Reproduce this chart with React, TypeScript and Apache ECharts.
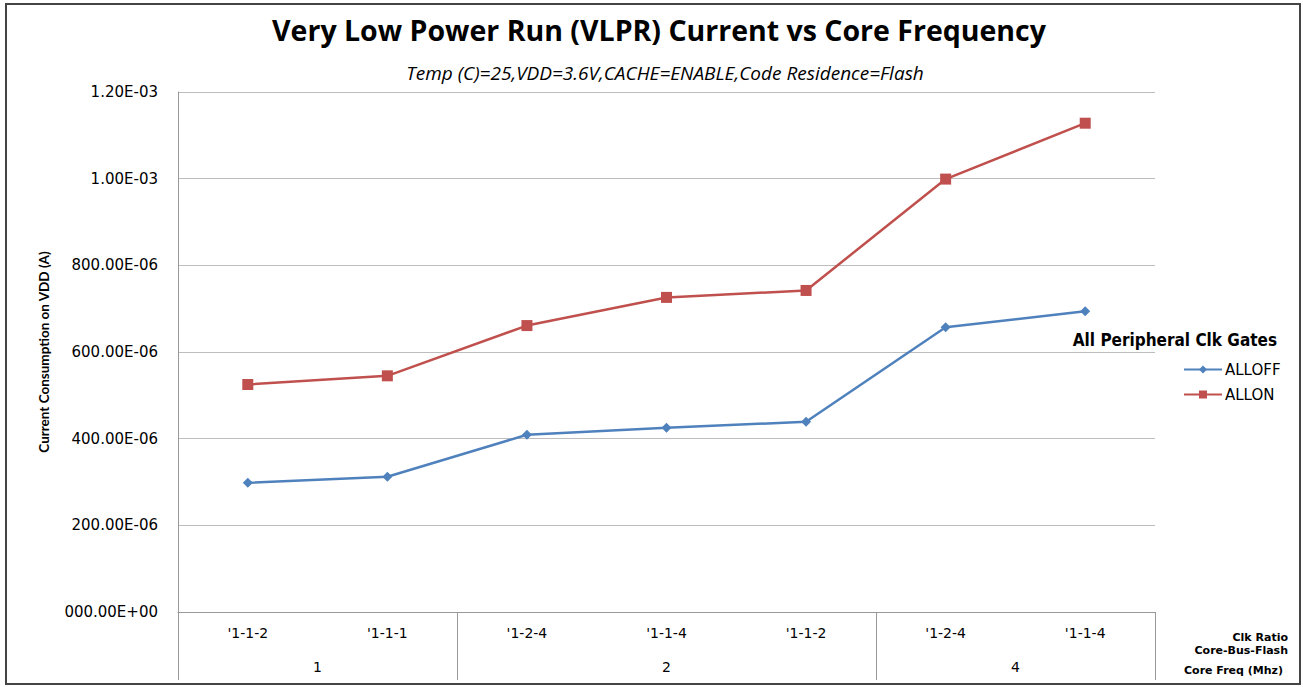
import React, { useEffect, useRef } from "react";
import * as echarts from "echarts";

const categories = ["'1-1-2", "'1-1-1", "'1-2-4", "'1-1-4", "'1-1-2", "'1-2-4", "'1-1-4"];
const groupLabels = ["1", "2", "4"];
const groupBoundaries = [0, 2, 5, 7];
const groupCenters = [1, 3.5, 6];
const allOff = [0.000298, 0.000312, 0.000409, 0.000425, 0.000439, 0.000657, 0.000694];
const allOn = [0.000525, 0.000545, 0.000661, 0.000726, 0.000742, 0.000999, 0.001128];
const yTickLabels = ["000.00E+00", "200.00E-06", "400.00E-06", "600.00E-06", "800.00E-06", "1.00E-03", "1.20E-03"];

const BLUE = "#4F81BD";
const RED = "#C0504D";
const OPEN = "'Open Sans', sans-serif";
const VERD = "'DejaVu Sans', Verdana, sans-serif";

export default function App() {
  const ref = useRef<HTMLDivElement>(null);
  useEffect(() => {
    document.body.style.margin = "0";
    const chart = echarts.init(ref.current!, null, { renderer: "svg" });
    chart.setOption({
      animation: false,
      backgroundColor: "#ffffff",
      title: [
        {
          text: "Very Low Power Run (VLPR) Current vs Core Frequency",
          left: 654,
          textAlign: "center",
          top: 10,
          textStyle: { fontFamily: OPEN, fontWeight: "bold", fontSize: 28.5, color: "#000" },
        },
        {
          text: "Temp (C)=25,VDD=3.6V,CACHE=ENABLE,Code Residence=Flash",
          left: 660,
          textAlign: "center",
          top: 58,
          textStyle: { fontFamily: OPEN, fontStyle: "italic", fontWeight: "normal", fontSize: 19, color: "#000" },
        },
      ],
      grid: { left: 178, right: 148, top: 92, bottom: 75, containLabel: false },
      legend: {
        orient: "vertical",
        left: 1178,
        top: 357,
        itemWidth: 38,
        itemHeight: 10,
        itemGap: 10,
        textStyle: { fontFamily: VERD, fontSize: 15, color: "#000", padding: [0, 0, 0, -2] },
        data: ["ALLOFF", "ALLON"],
      },
      xAxis: [
        {
          type: "category",
          data: categories,
          boundaryGap: true,
          axisLine: { show: true, lineStyle: { color: "#999", width: 1 } },
          axisTick: { show: false },
          axisLabel: { margin: 14, fontFamily: VERD, fontSize: 14, color: "#000" },
        },
        {
          type: "value",
          min: 0,
          max: 7,
          position: "bottom",
          splitLine: { show: false },
          axisLine: { show: false },
          axisTick: {
            show: true,
            customValues: groupBoundaries,
            length: 68,
            lineStyle: { color: "#999", width: 1 },
          },
          axisLabel: {
            show: true,
            customValues: groupCenters,
            margin: 48,
            fontFamily: VERD,
            fontSize: 14,
            color: "#000",
            formatter: (v: number) => groupLabels[groupCenters.indexOf(v)] ?? "",
          },
        },
      ],
      yAxis: {
        type: "value",
        min: 0,
        max: 0.0012,
        interval: 0.0002,
        name: "Current Consumption on VDD (A)",
        nameLocation: "middle",
        nameGap: 127,
        nameRotate: 90,
        nameTextStyle: { fontFamily: "Lato, sans-serif", fontWeight: "bold", fontSize: 13.5, color: "#000" },
        axisLine: { show: true, lineStyle: { color: "#999" } },
        axisTick: { show: false },
        splitLine: { show: true, lineStyle: { color: "#bdbdbd", width: 1 } },
        axisLabel: {
          margin: 20,
          fontFamily: VERD,
          fontSize: 15,
          color: "#000",
          formatter: (_v: number, i: number) => yTickLabels[i],
        },
      },
      series: [
        {
          name: "ALLOFF",
          type: "line",
          data: allOff,
          symbol: "diamond",
          symbolSize: 10,
          itemStyle: { color: BLUE },
          lineStyle: { color: BLUE, width: 2.5 },
        },
        {
          name: "ALLON",
          type: "line",
          data: allOn,
          symbol: "rect",
          symbolSize: 11,
          itemStyle: { color: RED },
          lineStyle: { color: RED, width: 2.5 },
        },
      ],
      graphic: [
        {
          type: "rect",
          shape: { x: 6, y: 4, width: 1294, height: 680 },
          style: { fill: "none", stroke: "#444", lineWidth: 2 },
          silent: true,
        },
        {
          type: "text",
          x: 1277,
          y: 340,
          style: {
            text: "All Peripheral Clk Gates",
            align: "right",
            verticalAlign: "middle",
            font: "bold 17px 'DejaVu Sans Condensed', 'Open Sans', sans-serif",
            fill: "#000",
          },
        },
        {
          type: "text",
          x: 1288,
          y: 637,
          style: {
            text: "Clk Ratio",
            align: "right",
            verticalAlign: "middle",
            font: "bold 11px 'DejaVu Sans', sans-serif",
            fill: "#000",
          },
        },
        {
          type: "text",
          x: 1288,
          y: 650,
          style: {
            text: "Core-Bus-Flash",
            align: "right",
            verticalAlign: "middle",
            font: "bold 11px 'DejaVu Sans', sans-serif",
            fill: "#000",
          },
        },
        {
          type: "text",
          x: 1283,
          y: 670,
          style: {
            text: "Core Freq (Mhz)",
            align: "right",
            verticalAlign: "middle",
            font: "bold 11px 'DejaVu Sans', sans-serif",
            fill: "#000",
          },
        },
      ],
    });
    return () => chart.dispose();
  }, []);
  return <div ref={ref} style={{ width: 1303, height: 687 }} />;
}
